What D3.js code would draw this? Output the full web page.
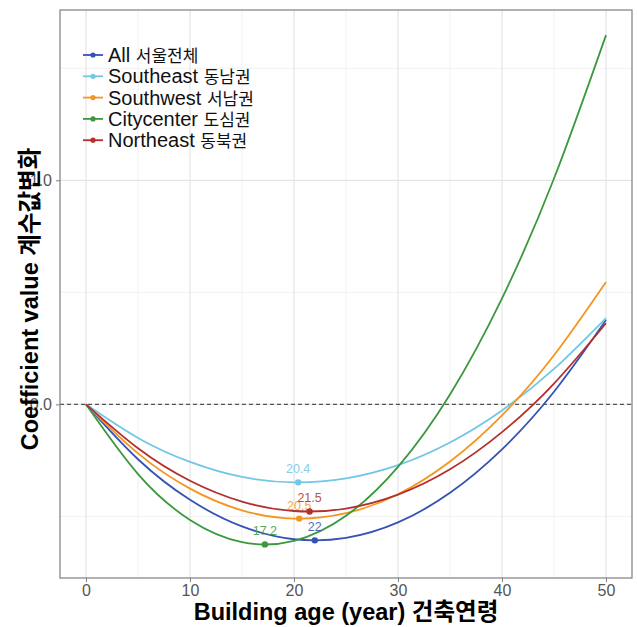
<!DOCTYPE html>
<html>
<head>
<meta charset="utf-8">
<script src="https://cdn.jsdelivr.net/npm/d3@7"></script>
<style>
  body { margin: 0; background: #fff; }
  text { font-family: "Liberation Sans", Arial, "Noto Sans CJK KR", sans-serif; }
</style>
</head>
<body>
<div id="chart"></div>
<script>
// Building age sampled every 5 years
const ages = [0, 5, 10, 15, 20, 25, 30, 35, 40, 45, 50];

const seriesNames = ["All 서울전체", "Southeast 동남권", "Southwest 서남권", "Citycenter 도심권", "Northeast 동북권"];
const seriesColors = ["#3553b5", "#72c6e6", "#f7941d", "#3c983d", "#b3302c"];

// coefficient values
const allValues = [0, -0.245, -0.426, -0.545, -0.602, -0.596, -0.527, -0.395, -0.201, 0.056, 0.376];
const southeastValues = [0, -0.150, -0.257, -0.324, -0.348, -0.330, -0.271, -0.170, -0.027, 0.158, 0.385];
const southwestValues = [0, -0.219, -0.376, -0.473, -0.510, -0.486, -0.401, -0.255, -0.049, 0.219, 0.546];
const citycenterValues = [0, -0.311, -0.516, -0.615, -0.609, -0.497, -0.279, 0.044, 0.473, 1.008, 1.648];
const northeastValues = [0, -0.196, -0.341, -0.434, -0.476, -0.465, -0.403, -0.290, -0.124, 0.093, 0.362];

// turning points (age of minimum, value)
const minAges = [22, 20.4, 20.5, 17.2, 21.5];
const minValues = [-0.607, -0.348, -0.510, -0.625, -0.478];
const minLabels = ["22", "20.4", "20.5", "17.2", "21.5"];

const xTicks = [0, 10, 20, 30, 40, 50];
const xMinor = [5, 15, 25, 35, 45];
const yTicks = [0, 1];
const yMinor = [-0.5, 0.5, 1.5];

const seriesValues = [allValues, southeastValues, southwestValues, citycenterValues, northeastValues];

const width = 637, height = 627;
const margin = { top: 10, right: 5, bottom: 49, left: 60 };
const innerW = width - margin.left - margin.right;
const innerH = height - margin.top - margin.bottom;

const svg = d3.select("#chart").append("svg")
    .attr("width", width)
    .attr("height", height);

const chart = svg.append("g")
    .attr("transform", `translate(${margin.left},${margin.top})`);

const x = d3.scaleLinear().domain([-2.5, 52.5]).range([0, innerW]);
const y = d3.scaleLinear().domain([-0.775, 1.76]).range([innerH, 0]);

// grid lines
chart.selectAll(".grid-minor-x").data(xMinor).join("line")
    .attr("x1", d => x(d)).attr("x2", d => x(d))
    .attr("y1", 0).attr("y2", innerH)
    .attr("stroke", "#f0f0f0").attr("stroke-width", 1);
chart.selectAll(".grid-minor-y").data(yMinor).join("line")
    .attr("y1", d => y(d)).attr("y2", d => y(d))
    .attr("x1", 0).attr("x2", innerW)
    .attr("stroke", "#f0f0f0").attr("stroke-width", 1);
chart.selectAll(".grid-x").data(xTicks).join("line")
    .attr("x1", d => x(d)).attr("x2", d => x(d))
    .attr("y1", 0).attr("y2", innerH)
    .attr("stroke", "#e6e6e6").attr("stroke-width", 1.3);
chart.selectAll(".grid-y").data(yTicks).join("line")
    .attr("y1", d => y(d)).attr("y2", d => y(d))
    .attr("x1", 0).attr("x2", innerW)
    .attr("stroke", "#e6e6e6").attr("stroke-width", 1.3);

// zero reference line
chart.append("line")
    .attr("x1", 0).attr("x2", innerW)
    .attr("y1", y(0)).attr("y2", y(0))
    .attr("stroke", "#555").attr("stroke-width", 1.1)
    .attr("stroke-dasharray", "4,3");

// curves
const line = d3.line()
    .x((d, i) => x(ages[i]))
    .y(d => y(d))
    .curve(d3.curveNatural);

chart.selectAll(".curve").data(seriesValues).join("path")
    .attr("class", "curve")
    .attr("d", d => line(d))
    .attr("fill", "none")
    .attr("stroke", (d, i) => seriesColors[i])
    .attr("stroke-width", 1.8);

// minimum points and labels
chart.selectAll(".min-label").data(minAges).join("text")
    .attr("class", "min-label")
    .attr("x", (d, i) => x(d))
    .attr("y", (d, i) => y(minValues[i]) - 9)
    .attr("text-anchor", "middle")
    .attr("fill", (d, i) => seriesColors[i])
    .attr("opacity", 0.85)
    .style("font-size", "12.5px")
    .text((d, i) => minLabels[i]);

chart.selectAll(".min-point").data(minAges).join("circle")
    .attr("class", "min-point")
    .attr("cx", d => x(d))
    .attr("cy", (d, i) => y(minValues[i]))
    .attr("r", 3.2)
    .attr("fill", (d, i) => seriesColors[i]);

// panel border
chart.append("rect")
    .attr("width", innerW).attr("height", innerH)
    .attr("fill", "none").attr("stroke", "#7f7f7f").attr("stroke-width", 1.2);

// axes
const xAxis = d3.axisBottom(x).tickValues(xTicks).tickSize(4).tickPadding(3);
const yAxis = d3.axisLeft(y).tickValues(yTicks).tickSize(4).tickPadding(4);

const xAxisG = chart.append("g")
    .attr("transform", `translate(0,${innerH})`)
    .call(xAxis);
const yAxisG = chart.append("g").call(yAxis);

[xAxisG, yAxisG].forEach(g => {
    g.select(".domain").remove();
    g.selectAll(".tick line").attr("stroke", "#7f7f7f");
    g.selectAll(".tick text")
        .attr("fill", "#555")
        .style("font-size", "16px")
        .style("font-family", "Liberation Sans, Arial, sans-serif");
});

// axis titles
svg.append("text")
    .attr("x", margin.left + innerW / 2)
    .attr("y", 620)
    .attr("text-anchor", "middle")
    .style("font-size", "23.5px")
    .style("font-weight", "bold")
    .attr("fill", "#000")
    .text("Building age (year) 건축연령");

svg.append("text")
    .attr("transform", `translate(38,${margin.top + innerH / 2 + 5}) rotate(-90)`)
    .attr("text-anchor", "middle")
    .style("font-size", "23.5px")
    .style("font-weight", "bold")
    .attr("fill", "#000")
    .text("Coefficient value 계수값변화");

// legend
const legend = chart.append("g")
    .attr("transform", "translate(20,45)");

const rows = legend.selectAll(".legend-row").data(seriesNames).join("g")
    .attr("class", "legend-row")
    .attr("transform", (d, i) => `translate(0,${i * 21.3})`);

rows.append("line")
    .attr("x1", 3).attr("x2", 23)
    .attr("y1", 0).attr("y2", 0)
    .attr("stroke", (d, i) => seriesColors[i])
    .attr("stroke-width", 1.8);
rows.append("circle")
    .attr("cx", 13).attr("cy", 0).attr("r", 2.6)
    .attr("fill", (d, i) => seriesColors[i]);
rows.append("text")
    .attr("x", 28).attr("y", 7)
    .style("font-size", "20px")
    .attr("fill", "#111")
    .each(function(d) {
        const parts = d.split(" ");
        const t = d3.select(this);
        t.append("tspan").text(parts[0] + " ");
        t.append("tspan").style("font-size", "17px").text(parts.slice(1).join(" "));
    });
</script>
</body>
</html>
